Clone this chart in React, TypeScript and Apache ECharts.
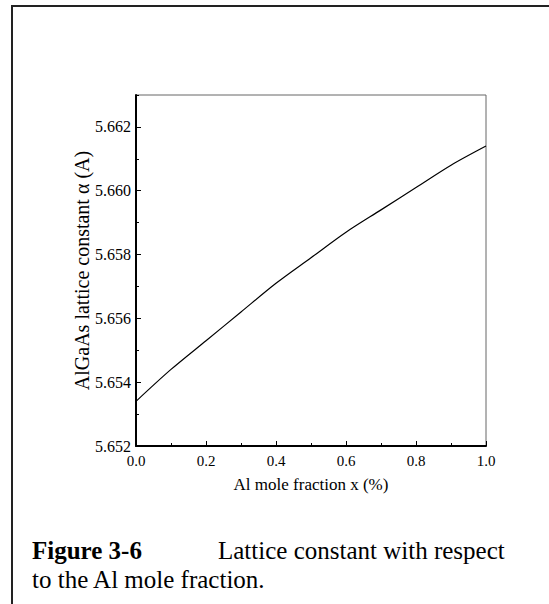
import React, { useEffect, useRef } from "react";
import * as echarts from "echarts";

const xValues = [0.0, 0.1, 0.2, 0.3, 0.4, 0.5, 0.6, 0.7, 0.8, 0.9, 1.0];
const latticeValues = [5.6534, 5.6544, 5.6553, 5.6562, 5.6571, 5.6579, 5.6587, 5.6594, 5.6601, 5.6608, 5.6614];
const xTitle = "Al mole fraction x (%)";
const yTitle = "AlGaAs lattice constant \u03b1 (A)";
const captionBold = "Figure 3-6";
const captionLine1 = "Lattice constant with respect";
const captionLine2 = "to the Al mole fraction.";

const FONT = "Liberation Serif";

export default function App() {
  const ref = useRef<HTMLDivElement>(null);
  useEffect(() => {
    if (!ref.current) return;
    const chart = echarts.init(ref.current, undefined, { renderer: "svg" });
    const data = xValues.map((x, i) => [x, latticeValues[i]]);
    chart.setOption({
      animation: false,
      backgroundColor: "#ffffff",
      textStyle: { fontFamily: FONT, color: "#000" },
      grid: {
        left: 136,
        top: 95,
        right: 63,
        bottom: 158,
        show: true,
        borderColor: "#666",
        borderWidth: 1,
        backgroundColor: "transparent",
      },
      xAxis: {
        type: "value",
        min: 0,
        max: 1,
        interval: 0.2,
        name: xTitle,
        nameLocation: "middle",
        nameGap: 30,
        nameTextStyle: { fontFamily: FONT, fontSize: 17, color: "#000" },
        axisLine: { show: true, lineStyle: { color: "#000", width: 2 } },
        axisTick: { show: true, inside: true, length: 5, lineStyle: { color: "#000", width: 1 } },
        minorTick: { show: true, splitNumber: 2, length: 3, lineStyle: { color: "#000", width: 1 } },
        axisLabel: {
          fontFamily: FONT,
          fontSize: 15,
          color: "#000",
          margin: 7,
          formatter: (v: number) => v.toFixed(1),
        },
        splitLine: { show: false },
      },
      yAxis: [
        {
          type: "value",
          min: 5.652,
          max: 5.663,
          interval: 0.002,
          name: yTitle,
          nameLocation: "middle",
          nameRotate: 90,
          nameGap: 44,
          nameMoveOverlap: false,
          nameTextStyle: { fontFamily: FONT, fontSize: 20, color: "#000" },
          axisLine: { show: true, lineStyle: { color: "#000", width: 2 } },
          axisTick: { show: true, inside: true, length: 5, lineStyle: { color: "#000", width: 1 } },
          axisLabel: {
            fontFamily: FONT,
            fontSize: 16,
            color: "#000",
            margin: 5,
            showMaxLabel: false,
            formatter: (v: number) => v.toFixed(3),
          },
          splitLine: { show: false },
        },
        {
          type: "value",
          position: "left",
          min: 5.652,
          max: 5.663,
          interval: 0.001,
          axisLine: { show: false },
          axisTick: { show: true, inside: true, length: 3, lineStyle: { color: "#000", width: 1 } },
          axisLabel: { show: false },
          splitLine: { show: false },
        },
      ],
      graphic: [
        {
          type: "rect",
          shape: { x: 12, y: 6, width: 700, height: 700 },
          style: { fill: "none", stroke: "#222", lineWidth: 2 },
          silent: true,
        },
        {
          type: "text",
          x: 32,
          y: 563,
          style: {
            text: captionBold,
            fontFamily: FONT,
            fontSize: 25,
            fontWeight: "bold",
            fill: "#000",
            verticalAlign: "bottom",
          },
        },
        {
          type: "text",
          x: 218,
          y: 563,
          style: {
            text: captionLine1,
            fontFamily: FONT,
            fontSize: 25,
            fill: "#000",
            verticalAlign: "bottom",
          },
        },
        {
          type: "text",
          x: 32,
          y: 592,
          style: {
            text: captionLine2,
            fontFamily: FONT,
            fontSize: 25,
            fill: "#000",
            verticalAlign: "bottom",
          },
        },
      ],
      series: [
        {
          type: "line",
          data,
          xAxisIndex: 0,
          yAxisIndex: 0,
          smooth: 0.3,
          showSymbol: false,
          lineStyle: { color: "#000", width: 1.2 },
        },
      ],
    });
    return () => chart.dispose();
  }, []);
  return (
    <div
      ref={ref}
      style={{ position: "fixed", left: 0, top: 0, width: 549, height: 604, background: "#fff" }}
    />
  );
}
